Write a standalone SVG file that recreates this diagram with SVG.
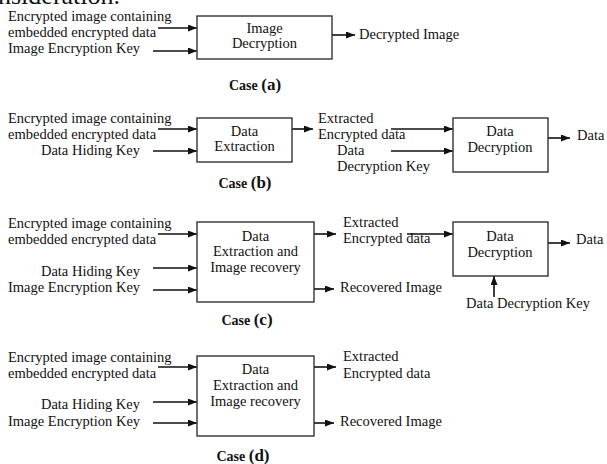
<svg xmlns="http://www.w3.org/2000/svg" width="607" height="464" viewBox="0 0 607 464">
<defs>
<marker id="ah" markerUnits="userSpaceOnUse" markerWidth="10" markerHeight="8" refX="9" refY="3.5" orient="auto">
<path d="M0,0 L9,3.5 L0,7 z" fill="#111"/>
</marker>
<style>
text{font-family:"Liberation Serif","Times New Roman",serif;font-size:14.5px;fill:#111}
.c{text-anchor:middle}
.r{text-anchor:end}
.cap{font-weight:bold;font-size:14px}
.cap tspan{font-size:17px}
.box{fill:#fff;stroke:#333;stroke-width:1.4}
.ln{fill:none;stroke:#111;stroke-width:1.6;marker-end:url(#ah)}
</style>
</defs>
<rect width="607" height="464" fill="#fff"/>
<text x="-2" y="4" style="font-size:26px">nsideration.</text>

<g id="labels">
<!-- case a -->
<text x="8" y="21">Encrypted image containing</text>
<text x="8" y="37">embedded encrypted data</text>
<text x="8" y="53">Image Encryption Key</text>
<text x="359" y="39">Decrypted Image</text>
<text class="c cap" x="255" y="90">Case <tspan>(a)</tspan></text>
<!-- case b -->
<text x="8" y="123">Encrypted image containing</text>
<text x="8" y="139">embedded encrypted data</text>
<text class="r" x="140" y="155">Data Hiding Key</text>
<text x="318" y="123">Extracted</text>
<text x="318" y="139">Encrypted data</text>
<text x="337" y="155">Data</text>
<text x="337" y="171">Decryption Key</text>
<text x="577" y="140">Data</text>
<text class="c cap" x="245" y="188">Case <tspan>(b)</tspan></text>
<!-- case c -->
<text x="8" y="228">Encrypted image containing</text>
<text x="8" y="244">embedded encrypted data</text>
<text class="r" x="140" y="276">Data Hiding Key</text>
<text x="8" y="292">Image Encryption Key</text>
<text x="343" y="227">Extracted</text>
<text x="343" y="243">Encrypted data</text>
<text x="340" y="292">Recovered Image</text>
<text x="576" y="244">Data</text>
<text x="466" y="308">Data Decryption Key</text>
<text class="c cap" x="247" y="325">Case <tspan>(c)</tspan></text>
<!-- case d -->
<text x="8" y="362">Encrypted image containing</text>
<text x="8" y="378">embedded encrypted data</text>
<text class="r" x="140" y="409">Data Hiding Key</text>
<text x="8" y="426">Image Encryption Key</text>
<text x="343" y="361">Extracted</text>
<text x="343" y="378">Encrypted data</text>
<text x="340" y="426">Recovered Image</text>
<text class="c cap" x="243" y="461">Case <tspan>(d)</tspan></text>
</g>

<g id="connectors">
<!-- a -->
<line class="ln" x1="158" y1="28" x2="197" y2="28"/>
<line class="ln" x1="153" y1="51" x2="197" y2="51"/>
<line class="ln" x1="332" y1="35" x2="355" y2="35"/>
<!-- b -->
<line class="ln" x1="158" y1="129" x2="197" y2="129"/>
<line class="ln" x1="153" y1="151" x2="197" y2="151"/>
<line class="ln" x1="292" y1="129" x2="313" y2="129"/>
<line class="ln" x1="391" y1="129" x2="453" y2="129"/>
<line class="ln" x1="391" y1="151" x2="453" y2="151"/>
<line class="ln" x1="548" y1="138" x2="570" y2="138"/>
<!-- c -->
<line class="ln" x1="158" y1="234" x2="197" y2="234"/>
<line class="ln" x1="153" y1="268" x2="197" y2="268"/>
<line class="ln" x1="153" y1="290" x2="197" y2="290"/>
<line class="ln" x1="314" y1="234" x2="336" y2="234"/>
<line class="ln" x1="407" y1="234" x2="453" y2="234"/>
<line class="ln" x1="314" y1="289" x2="334" y2="289"/>
<line class="ln" x1="548" y1="243" x2="570" y2="243"/>
<line class="ln" x1="494" y1="297" x2="494" y2="276"/>
<!-- d -->
<line class="ln" x1="158" y1="367" x2="197" y2="367"/>
<line class="ln" x1="153" y1="402" x2="197" y2="402"/>
<line class="ln" x1="153" y1="423" x2="197" y2="423"/>
<line class="ln" x1="314" y1="367" x2="336" y2="367"/>
<line class="ln" x1="314" y1="423" x2="334" y2="423"/>
</g>

<g id="imgdec_a">
<rect class="box" x="197" y="16" width="135" height="43"/>
<text class="c" x="264.5" y="33">Image</text>
<text class="c" x="264.5" y="48">Decryption</text>
</g>
<g id="dataext_b">
<rect class="box" x="197" y="118" width="95" height="44"/>
<text class="c" x="244.5" y="136">Data</text>
<text class="c" x="244.5" y="151">Extraction</text>
</g>
<g id="datadec_b">
<rect class="box" x="453" y="118" width="95" height="54"/>
<text class="c" x="500" y="136">Data</text>
<text class="c" x="500" y="152">Decryption</text>
</g>
<g id="extrec_c">
<rect class="box" x="197" y="222" width="117" height="80"/>
<text class="c" x="255.5" y="241">Data</text>
<text class="c" x="255.5" y="256">Extraction and</text>
<text class="c" x="255.5" y="272">Image recovery</text>
</g>
<g id="datadec_c">
<rect class="box" x="453" y="222" width="95" height="54"/>
<text class="c" x="500" y="241">Data</text>
<text class="c" x="500" y="257">Decryption</text>
</g>
<g id="extrec_d">
<rect class="box" x="197" y="356" width="117" height="80"/>
<text class="c" x="255.5" y="374">Data</text>
<text class="c" x="255.5" y="390">Extraction and</text>
<text class="c" x="255.5" y="406">Image recovery</text>
</g>
</svg>
